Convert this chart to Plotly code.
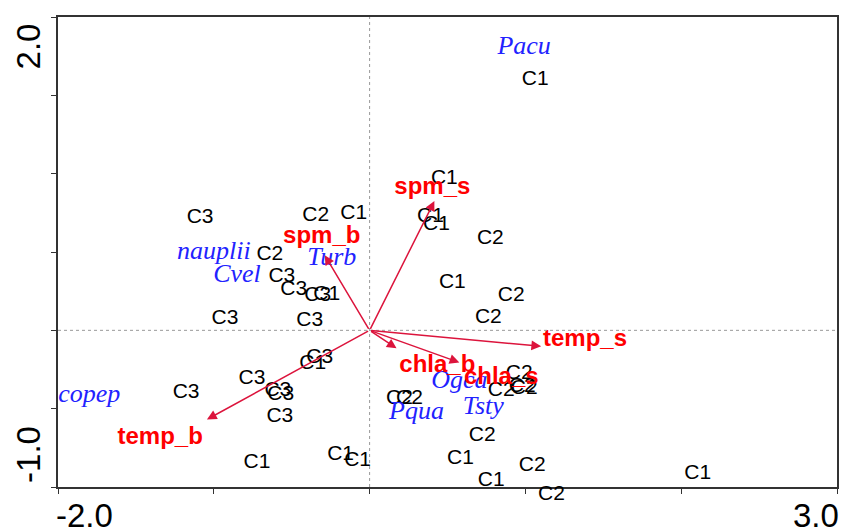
import plotly.graph_objects as go

# ---------------- data ----------------
# sample scores (label, x, y)
c1_x = [1.063, 0.480, 0.391, 0.429, 0.531, -0.102, -0.275, -0.365, -0.723, -0.186, -0.077, 0.583, 0.781, 2.106]
c1_y = [1.600, 0.966, 0.723, 0.672, 0.301, 0.742, 0.224, -0.211, -0.845, -0.793, -0.832, -0.819, -0.960, -0.915]
c2_x = [0.775, 0.909, 0.762, -0.346, -0.640, 0.192, 0.256, 0.960, 0.845, 0.980, 0.992, 0.723, 1.044, 1.165]
c2_y = [0.582, 0.218, 0.083, 0.729, 0.480, -0.435, -0.435, -0.275, -0.384, -0.358, -0.371, -0.672, -0.864, -1.036]
c3_x = [-1.088, -0.563, -0.487, -0.333, -0.928, -0.384, -0.320, -0.755, -1.178, -0.589, -0.570, -0.576]
c3_y = [0.717, 0.345, 0.256, 0.218, 0.077, 0.064, -0.173, -0.307, -0.397, -0.384, -0.409, -0.550]

# species scores
species = ["Pacu", "nauplii", "Cvel", "Turb", "copep", "Ogca", "Pqua", "Tsty"]
species_x = [0.992, -0.999, -0.851, -0.243, -1.799, 0.576, 0.301, 0.730]
species_y = [1.804, 0.499, 0.352, 0.461, -0.416, -0.326, -0.525, -0.493]

# environmental vectors (arrow tips) and label positions
env = ["spm_s", "spm_b", "temp_s", "temp_b", "chla_b", "chla_s"]
env_x = [0.416, -0.288, 1.101, -1.044, 0.576, 0.173]
env_y = [0.825, 0.480, -0.102, -0.569, -0.205, -0.115]
env_label_x = [0.403, -0.307, 1.383, -1.344, 0.435, 0.845]
env_label_y = [0.909, 0.595, -0.064, -0.685, -0.230, -0.307]

x_range = [-2.0, 3.0]
y_range = [-1.0, 2.0]
x_ticks = [-2, -1, 0, 1, 2, 3]
y_ticks = [-1.0, -0.5, 0.0, 0.5, 1.0, 1.5, 2.0]

# ---------------- figure ----------------
fig = go.Figure()
annotations = []

sample_font = dict(family="Liberation Sans, Arial", size=21, color="black")
for lab, xs, ys in [("C1", c1_x, c1_y), ("C2", c2_x, c2_y), ("C3", c3_x, c3_y)]:
    inside = [(x, y) for x, y in zip(xs, ys) if y_range[0] <= y <= y_range[1]]
    outside = [(x, y) for x, y in zip(xs, ys) if not (y_range[0] <= y <= y_range[1])]
    fig.add_trace(go.Scatter(x=[p[0] for p in inside], y=[p[1] for p in inside],
                             mode="text", text=[lab] * len(inside),
                             textposition="middle center", textfont=sample_font,
                             cliponaxis=False, showlegend=False, hoverinfo="skip"))
    # labels lying just past the axis box: drawn as annotation text at the (invisible)
    # arrow tail, which sits at the data point, so Plotly does not hide them
    for x, y in outside:
        y_in = min(max(y, y_range[0]), y_range[1])
        annotations.append(dict(x=x, y=y_in, xref="x", yref="y", axref="x", ayref="y",
                                ax=x, ay=y, text=lab, showarrow=True,
                                arrowcolor="rgba(0,0,0,0)", arrowwidth=0.1,
                                xanchor="center", yanchor="middle", font=sample_font))

fig.add_trace(go.Scatter(x=species_x, y=species_y, mode="text", text=species,
                         textposition="middle center", cliponaxis=False,
                         textfont=dict(family="Liberation Serif, Times New Roman", size=26,
                                       color="#2222ff", style="italic"),
                         showlegend=False, hoverinfo="skip"))

fig.add_trace(go.Scatter(x=env_label_x, y=env_label_y, mode="text", text=env,
                         textposition="middle center", cliponaxis=False,
                         textfont=dict(family="Liberation Sans, Arial", size=24,
                                       color="#ff0000", weight="bold"),
                         showlegend=False, hoverinfo="skip"))

for ex, ey in zip(env_x, env_y):
    annotations.append(dict(x=ex, y=ey, ax=0, ay=0, xref="x", yref="y", axref="x", ayref="y",
                            text="", showarrow=True, arrowhead=2, arrowsize=1.3,
                            arrowwidth=1.5, arrowcolor="#dc143c", standoff=0))

tick_font = dict(family="Liberation Sans, Arial", size=33, color="black")
annotations += [
    dict(x=x_range[0], y=0, xref="x", yref="paper", text="-2.0", showarrow=False,
         xanchor="left", yanchor="top", yshift=-8, font=tick_font, xshift=-4),
    dict(x=x_range[1], y=0, xref="x", yref="paper", text="3.0", showarrow=False,
         xanchor="right", yanchor="top", yshift=-8, font=tick_font, xshift=4),
    dict(x=-0.038, y=y_range[1], xref="paper", yref="y", text="2.0", showarrow=False,
         textangle=-90, xanchor="center", yanchor="top", font=tick_font, yshift=-4),
    dict(x=-0.038, y=y_range[0], xref="paper", yref="y", text="-1.0", showarrow=False,
         textangle=-90, xanchor="center", yanchor="bottom", font=tick_font, yshift=2),
]

shapes = [
    dict(type="line", xref="x", yref="paper", x0=0, x1=0, y0=0, y1=1,
         line=dict(color="#999999", width=1, dash="dot")),
    dict(type="line", xref="paper", yref="y", x0=0, x1=1, y0=0, y1=0,
         line=dict(color="#999999", width=1, dash="dot")),
]

axis_common = dict(showgrid=False, zeroline=False, showline=True, linecolor="#333333",
                   linewidth=2, mirror=True, ticks="outside", ticklen=5, tickwidth=1,
                   tickcolor="#333333", showticklabels=False)

fig.update_layout(
    width=842, height=528,
    margin=dict(l=58, r=3, t=17, b=41),
    paper_bgcolor="white", plot_bgcolor="white",
    xaxis=dict(range=x_range, tickvals=x_ticks, **axis_common),
    yaxis=dict(range=y_range, tickvals=y_ticks, **axis_common),
    annotations=annotations, shapes=shapes,
    showlegend=False,
)

fig.write_html("out.html")
